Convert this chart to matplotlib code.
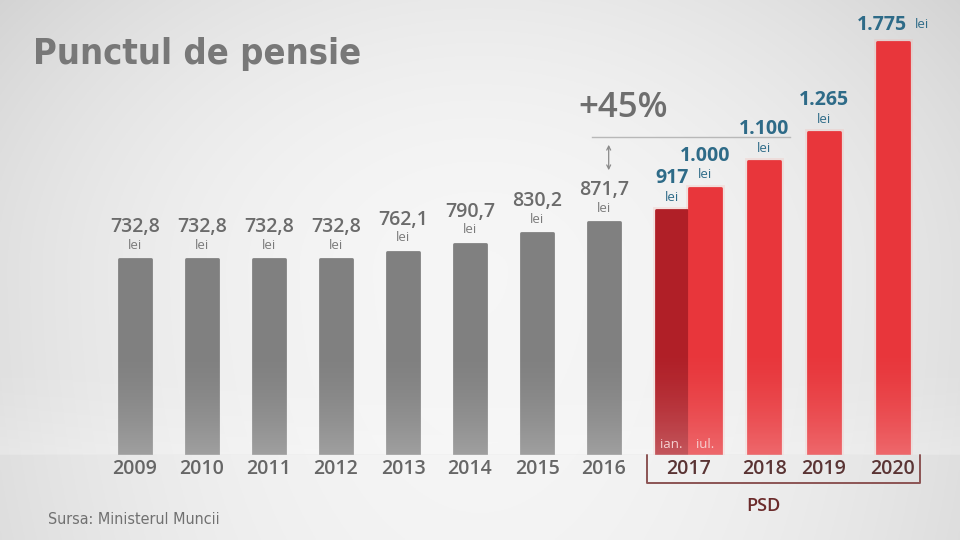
import numpy as np
import matplotlib
matplotlib.use('Agg')
import matplotlib.pyplot as plt
from matplotlib import transforms

# data
years_gray = ['2009', '2010', '2011', '2012', '2013', '2014', '2015', '2016']
values_gray = [732.8, 732.8, 732.8, 732.8, 762.1, 790.7, 830.2, 871.7]
labels_gray = ['732,8', '732,8', '732,8', '732,8', '762,1', '790,7', '830,2', '871,7']

years_red = ['2017', '2018', '2019', '2020']
values_red = [917, 1000, 1100, 1265, 1775]
labels_red = ['917', '1.000', '1.100', '1.265', '1.775']
sub_2017 = ['ian.', 'iul.']

# layout (x positions in bar slots)
x_gray = np.arange(8)
x_red = [8.01, 8.51, 9.39, 10.28, 11.31]
x_years_red = [8.26, 9.39, 10.28, 11.31]

# the infographic squeezes the tallest bars a little
def fwd(v):
    v = np.asarray(v, dtype=float)
    return np.where(v <= 1100, v, 1100 + 0.662 * (v - 1100))

def inv(t):
    t = np.asarray(t, dtype=float)
    return np.where(t <= 1100, t, 1100 + (t - 1100) / 0.662)

fig = plt.figure(figsize=(9.6, 5.4), dpi=100)

# background vignette (darker at the sides and the top)
bg = fig.add_axes([0, 0, 1, 1], zorder=-5)
yy, xx = np.mgrid[-1:1:300j, -1:1:540j]
shade = (0.965 - 0.085 * xx ** 2 - 0.05 * np.clip(-yy, 0, 1) ** 2
         - 0.01 * np.clip(yy, 0, 1) ** 2)
img = np.dstack([shade, shade, shade])
bg.imshow(img, extent=[0, 1, 0, 1], aspect='auto')
bg.set_xlim(0, 1)
bg.set_ylim(0, 1)
bg.axis('off')

ax = fig.add_axes([0, 85 / 540, 1, 455 / 540])
ax.patch.set_alpha(0)
ax.set_yscale('function', functions=(fwd, inv))
ax.set_xlim(-135 / 67, 825 / 67)
ax.set_ylim(0, float(inv(455 / 0.267)))
for s in ax.spines.values():
    s.set_visible(False)
ax.set_xticks([])
ax.set_yticks([])

gray = '#808080'
red = '#e8363b'
dark_red = '#b01f27'
num_font = 'Open Sans'

ax.bar(x_gray, values_gray, width=0.49, color=gray, edgecolor=gray, lw=2,
       joinstyle='round', zorder=2)
red_colors = [dark_red, red, red, red, red]
# soft glow round the red bars
ax.bar(x_red, values_red, width=0.47, color='none', edgecolor='#f6b0a8',
       lw=5, alpha=0.25, zorder=1.5)
ax.bar(x_red, values_red, width=0.47, color=red_colors, edgecolor=red_colors,
       lw=2, joinstyle='round', zorder=2)

# floor line
ax.axhline(0, color='#d2d2d2', lw=1, zorder=3)

# value labels
for x, v, lab in zip(x_gray, values_gray, labels_gray):
    ax.annotate(lab, (x, v), xytext=(0, 32), textcoords='offset pixels',
                ha='center', va='center', fontsize=14, color='#6b6b6b',
                family=num_font, weight='semibold')
    ax.annotate('lei', (x, v), xytext=(0, 14), textcoords='offset pixels',
                ha='center', va='center', fontsize=9.5, color='#7a7a7a',
                family=num_font)

blue = '#2e6b88'
for x, v, lab in zip(x_red[:4], values_red[:4], labels_red[:4]):
    ax.annotate(lab, (x, v), xytext=(0, 32), textcoords='offset pixels',
                ha='center', va='center', fontsize=14, color=blue,
                family=num_font, weight='bold')
    ax.annotate('lei', (x, v), xytext=(0, 13), textcoords='offset pixels',
                ha='center', va='center', fontsize=9.5, color=blue,
                family=num_font)
ax.annotate(labels_red[4], (x_red[4], values_red[4]), xytext=(-11, 17),
            textcoords='offset pixels', ha='center', va='center', fontsize=14,
            color=blue, family=num_font, weight='bold')
ax.annotate('lei', (x_red[4], values_red[4]), xytext=(29, 17),
            textcoords='offset pixels', ha='center', va='center', fontsize=9.5,
            color=blue, family=num_font)

# ian. / iul.
for x, s in zip(x_red[:2], sub_2017):
    ax.annotate(s, (x, 0), xytext=(0, 10), textcoords='offset pixels',
                ha='center', va='center', fontsize=9.5, color='#f3c4c4',
                family=num_font)

# fade toward the floor, drawn over the bars
ov = fig.add_axes([0, 85 / 540, 1, 110 / 540], zorder=5)
fade = np.linspace(0, 1, 100)[:, None] ** 1.6
fade_img = np.ones((100, 2, 4))
fade_img[..., 3] = 0.25 * fade
ov.imshow(fade_img, extent=[0, 1, 0, 1], aspect='auto')
ov.set_xlim(0, 1)
ov.set_ylim(0, 1)
ov.axis('off')

# year labels
mixed = transforms.blended_transform_factory(ax.transData, fig.transFigure)
for x, y in zip(x_gray, years_gray):
    ax.text(x, 71 / 540, y, transform=mixed, ha='center', va='center',
            fontsize=14, color='#666666', family=num_font, weight='semibold')
for x, y in zip(x_years_red, years_red):
    ax.text(x, 71 / 540, y, transform=mixed, ha='center', va='center',
            fontsize=14, color='#5a3434', family=num_font, weight='semibold')

# PSD bracket
x0, x1 = (647 - 135) / 67, (920 - 135) / 67
ax.plot([x0, x0, x1, x1], [85 / 540, 57 / 540, 57 / 540, 85 / 540],
        transform=mixed, color='#8c5454', lw=1.4, solid_joinstyle='round',
        clip_on=False, zorder=4)
ax.text((763 - 135) / 67, 34 / 540, 'PSD', transform=mixed, ha='center',
        va='center', fontsize=13, color='#6b2b2b', family=num_font,
        weight='semibold')

# +45% marker
ax.text((623 - 135) / 67, 432 / 540, '+45%', transform=mixed, ha='center',
        va='center', fontsize=25, color='#6e6e6e', family=num_font,
        weight='semibold')
ax.plot([(592 - 135) / 67, (790 - 135) / 67], [403 / 540, 403 / 540],
        transform=mixed, color='#b8b8b8', lw=1, zorder=1)
ax.annotate('', xy=(7.07, 367 / 540), xytext=(7.07, 398 / 540),
            xycoords=mixed, textcoords=mixed,
            arrowprops=dict(arrowstyle='<->', color='#8a8a8a', lw=0.9,
                            mutation_scale=7))

# title and source
fig.text(33 / 960, 486 / 540, 'Punctul de pensie', ha='left', va='center',
         fontsize=26, color='#787878', family='DejaVu Sans',
         stretch='condensed', weight='bold')
fig.text(48 / 960, 21 / 540, 'Sursa: Ministerul Muncii', ha='left',
         va='center', fontsize=11.5, color='#707070', family='DejaVu Sans',
         stretch='condensed')

fig.savefig('out.png', dpi=100)
